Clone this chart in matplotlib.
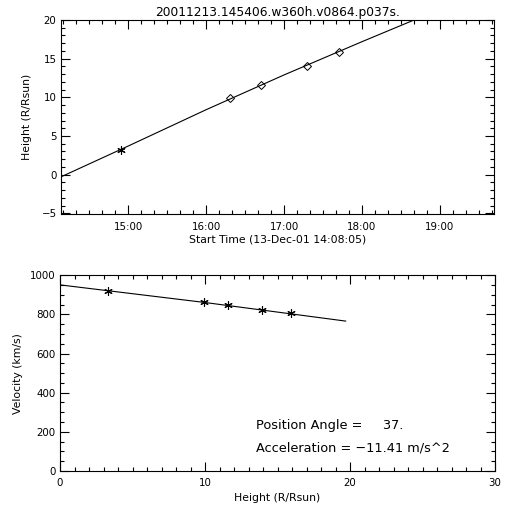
import datetime as dt
import matplotlib
matplotlib.use("Agg")
import matplotlib.pyplot as plt
import matplotlib.dates as mdates
from matplotlib.ticker import MultipleLocator

# height-time measurements (first point C2 = star, the rest C3 = diamonds)
obs_times = ["14:54:06", "16:18:30", "16:42:00", "17:17:40", "17:42:00"]
obs_heights = [3.19, 9.87, 11.55, 14.05, 15.90]

# fitted height-time curve
fit_times = ["14:08:05", "15:00:00", "16:00:00", "17:00:00", "18:00:00", "18:40:00"]
fit_heights = [-0.3, 3.7, 8.4, 12.9, 17.2, 20.0]

# velocity vs height
vel_heights = [3.29, 9.95, 11.56, 13.95, 15.93]
velocities = [921, 864, 850, 824, 807]
vfit_heights = [0.0, 10.0, 19.7]
vfit_vel = [951, 861, 766]

title = "20011213.145406.w360h.v0864.p037s."
pos_angle = "37."
accel = "-11.41"


def to_dt(s):
    h, m, sec = [int(v) for v in s.split(":")]
    return dt.datetime(2001, 12, 13, h, m, sec)


def style(ax):
    ax.tick_params(which="both", direction="in", top=True, right=True,
                   labelsize=7.4, width=0.8)
    ax.tick_params(axis="x", pad=5.3)
    ax.tick_params(axis="y", pad=3)
    ax.tick_params(which="major", length=6.5)
    ax.tick_params(which="minor", length=3.2)
    for sp in ax.spines.values():
        sp.set_linewidth(0.8)


fig = plt.figure(figsize=(5.12, 5.12), dpi=100)

# --- top panel: height vs time
ax1 = fig.add_axes([0.1186, 0.5814, 0.8469, 0.3795])
t_obs = [to_dt(s) for s in obs_times]
t_fit = [to_dt(s) for s in fit_times]
ax1.plot(t_fit, fit_heights, color="black", lw=0.8)
ax1.plot(t_obs[:1], obs_heights[:1], linestyle="none", marker=(6, 2, 0),
         ms=6, mew=0.8, color="black")
ax1.plot(t_obs[1:], obs_heights[1:], linestyle="none", marker="D",
         ms=3.8, mew=0.7, mfc="none", mec="black")
ax1.set_xlim(to_dt("14:08:05"), to_dt("19:41:50"))
ax1.set_ylim(-5.13, 20)
ax1.xaxis.set_major_locator(mdates.HourLocator())
ax1.xaxis.set_minor_locator(mdates.MinuteLocator(byminute=range(0, 60, 10)))
ax1.xaxis.set_major_formatter(mdates.DateFormatter("%H:%M"))
ax1.yaxis.set_major_locator(MultipleLocator(5))
ax1.yaxis.set_minor_locator(MultipleLocator(1))
style(ax1)
ax1.set_xlabel("Start Time (13-Dec-01 14:08:05)", fontsize=7.8, labelpad=2)
ax1.set_ylabel("Height (R/Rsun)", fontsize=7.8, labelpad=6.5)
ax1.set_title(title, fontsize=8.8, pad=3)

# --- bottom panel: velocity vs height
ax2 = fig.add_axes([0.1172, 0.0801, 0.8496, 0.3822])
ax2.plot(vfit_heights, vfit_vel, color="black", lw=0.8)
ax2.plot(vel_heights, velocities, linestyle="none", marker=(6, 2, 0),
         ms=6, mew=0.8, color="black")
ax2.set_xlim(0, 30)
ax2.set_ylim(0, 1000)
ax2.xaxis.set_major_locator(MultipleLocator(10))
ax2.xaxis.set_minor_locator(MultipleLocator(1))
ax2.yaxis.set_major_locator(MultipleLocator(200))
ax2.yaxis.set_minor_locator(MultipleLocator(50))
style(ax2)
ax2.set_xlabel("Height (R/Rsun)", fontsize=7.8, labelpad=3)
ax2.set_ylabel("Velocity (km/s)", fontsize=7.8, labelpad=5)
ax2.text(13.5, 231, "Position Angle =     " + pos_angle, fontsize=9.3,
         va="center", ha="left")
ax2.text(13.5, 119, "Acceleration = \u2212" + accel.lstrip("-") + " m/s^2",
         fontsize=9.3, va="center", ha="left")

fig.savefig("out.png", dpi=100)
